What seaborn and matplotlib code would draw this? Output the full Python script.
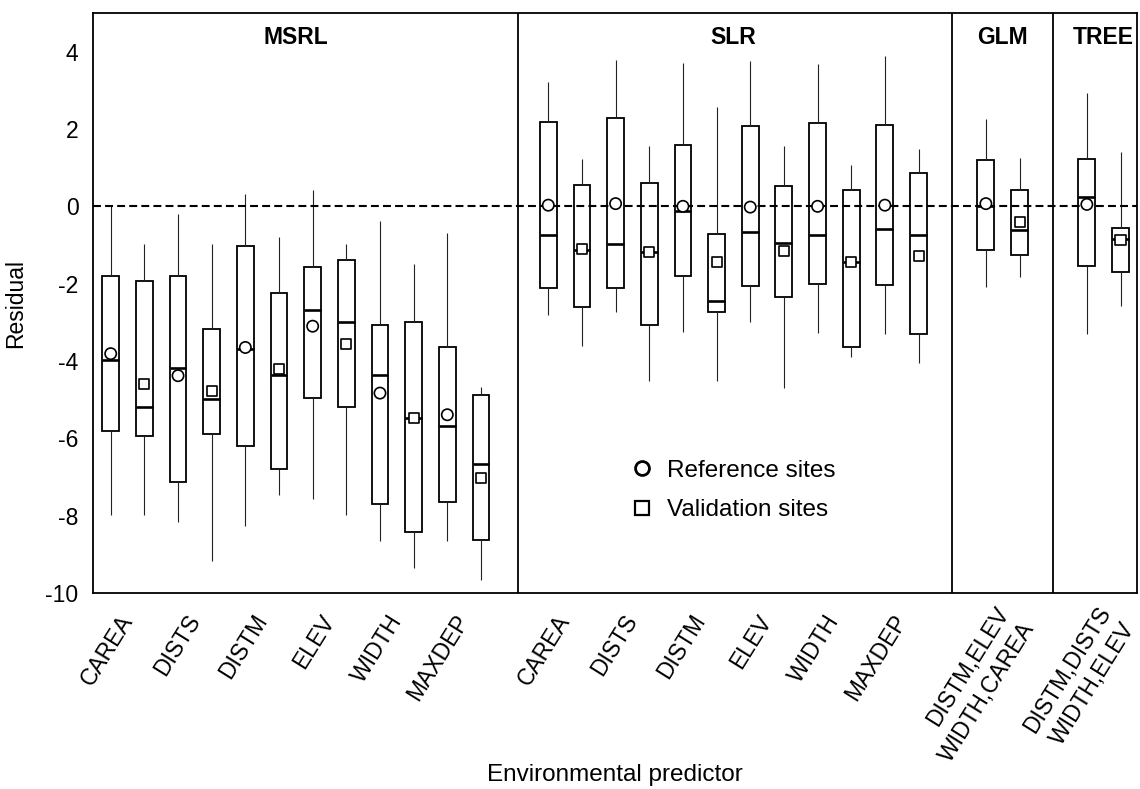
import numpy as np
import pandas as pd
import matplotlib
matplotlib.use("Agg")
import matplotlib.pyplot as plt
from matplotlib.lines import Line2D
import matplotlib.transforms as mtransforms
import seaborn as sns

# ---------------- data ----------------
groups = ["MSRL", "SLR", "GLM", "TREE"]
group_sizes = [12, 12, 2, 2]
site_types = ["Reference sites", "Validation sites"]
tick_labels = ["CAREA", "DISTS", "DISTM", "ELEV", "WIDTH", "MAXDEP",
               "CAREA", "DISTS", "DISTM", "ELEV", "WIDTH", "MAXDEP",
               "DISTM,ELEV\nWIDTH,CAREA", "DISTM,DISTS\nWIDTH,ELEV"]

# box statistics, order: (ref, val) pairs per predictor within each model
whisker_low = [-7.97, -7.97, -8.17, -9.16, -8.26, -7.47, -7.57, -7.97, -8.66, -9.36, -8.66, -9.66,
               -2.82, -3.61, -2.74, -4.51, -3.25, -4.53, -2.98, -4.71, -3.28, -3.90, -3.29, -4.04,
               -2.08, -1.83,
               -3.31, -2.58]
q1 = [-5.82, -5.94, -7.14, -5.90, -6.19, -6.79, -4.95, -5.18, -7.69, -8.41, -7.64, -8.63,
      -2.11, -2.60, -2.11, -3.08, -1.80, -2.74, -2.06, -2.35, -2.02, -3.65, -2.04, -3.29,
      -1.12, -1.27,
      -1.55, -1.70]
median = [-3.97, -5.18, -4.18, -4.97, -3.68, -4.37, -2.68, -2.98, -4.37, -5.47, -5.67, -6.66,
          -0.73, -1.14, -0.97, -1.17, -0.13, -2.46, -0.66, -0.95, -0.75, -1.44, -0.59, -0.75,
          0.00, -0.61,
          0.23, -0.84]
q3 = [-1.80, -1.93, -1.80, -3.18, -1.03, -2.25, -1.57, -1.39, -3.07, -2.98, -3.65, -4.89,
      2.17, 0.55, 2.29, 0.61, 1.58, -0.72, 2.07, 0.53, 2.15, 0.42, 2.11, 0.86,
      1.21, 0.42,
      1.23, -0.56]
whisker_high = [0.00, -0.97, -0.20, -0.97, 0.32, -0.79, 0.41, -0.97, -0.39, -1.49, -0.69, -4.67,
                3.22, 1.22, 3.78, 1.57, 3.71, 2.56, 3.76, 1.57, 3.68, 1.07, 3.88, 1.47,
                2.26, 1.25,
                2.93, 1.41]
means = [-3.81, -4.60, -4.38, -4.77, -3.65, -4.21, -3.10, -3.55, -4.83, -5.47, -5.39, -7.03,
         0.03, -1.10, 0.07, -1.19, 0.00, -1.45, -0.02, -1.16, 0.00, -1.45, 0.03, -1.29,
         0.07, -0.41,
         0.05, -0.87]

# ---------------- layout ----------------
positions = []
group_centers = []
start = 0
for size in group_sizes:
    pos = list(range(start, start + size))
    positions += pos
    group_centers.append((pos[0] + pos[-1]) / 2)
    start += size + 1
separators = [12.1, 25.0, 28.0]
sites = [site_types[i % 2] for i in range(len(positions))]
pair_centers = [(positions[i] + positions[i + 1]) / 2 for i in range(0, len(positions), 2)]

rows = []
for i, p in enumerate(positions):
    for v in (whisker_low[i], q1[i], median[i], q3[i], whisker_high[i]):
        rows.append({"pos": p, "value": v, "site": sites[i]})
df = pd.DataFrame(rows)

sns.set_style("white")
plt.rcParams["font.family"] = ["Liberation Sans", "DejaVu Sans"]
plt.rcParams["axes.unicode_minus"] = False
for k in ["text.color", "axes.labelcolor", "xtick.color", "ytick.color", "axes.edgecolor"]:
    plt.rcParams[k] = "black"

fig = plt.figure(figsize=(11.4, 7.89), dpi=100)
ax = fig.add_axes([93 / 1140, 1 - 593 / 789, (1137 - 93) / 1140, (593 - 13) / 789])

ax.axhline(0, color="black", lw=1.5, ls=(0, (3.8, 2.0)), zorder=3)

sns.boxplot(data=df, x="pos", y="value", orient="x", native_scale=True,
            whis=np.inf, width=0.5, color="white", linecolor="black",
            linewidth=1.3, fliersize=0, ax=ax,
            whiskerprops=dict(linewidth=0.8, color="#222222"),
            medianprops=dict(linewidth=1.9, color="black"),
            capprops=dict(linewidth=0))

for coll in ax.patches:
    coll.set_zorder(2)

for s_ in separators:
    ax.axvline(s_, color="black", lw=1.3, zorder=4)

marker_map = {"Reference sites": "o", "Validation sites": "s"}
sns.scatterplot(x=positions, y=means, style=sites, markers=marker_map,
                size=sites, sizes={"Reference sites": 66, "Validation sites": 52},
                color="white", edgecolor="black", linewidth=1.2, ax=ax,
                legend=False, zorder=6)

for name, cx in zip(groups, group_centers):
    ax.text(cx, 4.37, name, ha="center", va="center", fontsize=16.5,
            fontweight="bold", color="black", zorder=7)

ax.set_xlim(-0.526, 30.49)
ax.set_ylim(-10, 5)
ax.set_yticks(np.arange(-10, 5, 2))
ax.set_yticklabels([f"{v:d}" for v in np.arange(-10, 5, 2)], fontsize=16.5)

xt = pair_centers + separators
xl = tick_labels + [""] * len(separators)
ax.set_xticks(xt)
ax.set_xticklabels(xl, rotation=58, ha="right", va="center",
                   rotation_mode="anchor", fontsize=16.5, linespacing=1.35)
ax.tick_params(axis="x", direction="out", length=10, width=1.3, pad=7)
ax.tick_params(axis="y", direction="out", length=7.5, width=1.1, pad=3)

# nudge the two-line labels slightly right, as in the reference
for lab in ax.get_xticklabels():
    if "\n" in lab.get_text():
        lab.set_transform(lab.get_transform() +
                          mtransforms.ScaledTranslation(14 / 100, 0, fig.dpi_scale_trans))

for sp in ax.spines.values():
    sp.set_color("black")
    sp.set_linewidth(1.3)
    sp.set_visible(True)

ax.set_xlabel("Environmental predictor", fontsize=17.5)
ax.xaxis.set_label_coords(0.5, -0.295)
ax.set_ylabel("Residual", fontsize=16.5)
ax.yaxis.set_label_coords(-0.063, 0.5)

handles = [Line2D([], [], marker="o", ls="", mfc="white", mec="black", ms=10, mew=2.0),
           Line2D([], [], marker="s", ls="", mfc="white", mec="black", ms=9.5, mew=1.6)]
ax.legend(handles=handles, labels=site_types, loc="upper left",
          bbox_to_anchor=(0.514, 0.23), frameon=False, fontsize=17.5,
          handlelength=1.0, handletextpad=0.55, labelspacing=0.72,
          borderpad=0, borderaxespad=0)

fig.savefig("out.png", dpi=100)
